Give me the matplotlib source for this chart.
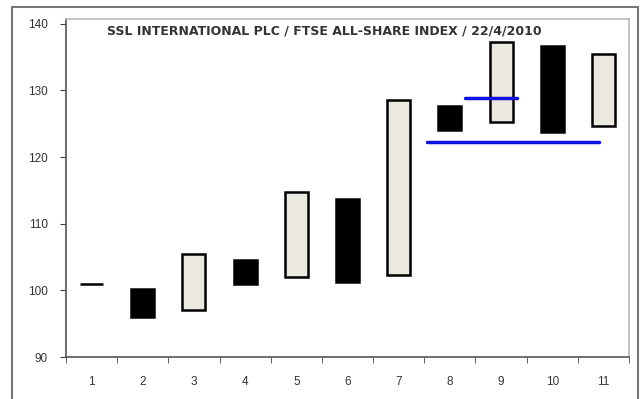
import numpy as np
import matplotlib.pyplot as plt
from matplotlib.patches import Rectangle

plt.rcParams['font.family'] = ['Liberation Sans', 'DejaVu Sans']

# candle bodies (open, close) per period
periods = list(range(1, 12))
opens = [101.0, 100.2, 97.0, 104.6, 102.0, 113.7, 102.3, 127.6, 125.2, 136.7, 124.7]
closes = [101.0, 96.0, 105.5, 101.0, 114.8, 101.2, 128.6, 124.1, 137.3, 123.7, 135.5]

# blue support / resistance lines: (x start, x end, level)
line_x0 = [7.29, 6.55]
line_x1 = [8.31, 9.91]
line_y = [128.8, 122.3]

title = 'SSL INTERNATIONAL PLC / FTSE ALL-SHARE INDEX / 22/4/2010'

fig = plt.figure(figsize=(6.44, 3.99), dpi=100)
# outer chart frame
fig.patches.append(Rectangle((12 / 644, -0.05), 626 / 644, 1 - 7 / 399 + 0.05,
                             transform=fig.transFigure, fill=False,
                             edgecolor='#777777', linewidth=1.5))

ax = fig.add_axes([66 / 644, 42 / 399, 563 / 644, 338 / 399])
x = np.arange(len(periods))
o = np.array(opens)
c = np.array(closes)
fills = ['black' if cc <= oo else '#ebe9df' for oo, cc in zip(o, c)]
ax.bar(x, c - o, bottom=o, width=0.45, color=fills, edgecolor='black', linewidth=1.8)

for x0, x1, yv in zip(line_x0, line_x1, line_y):
    ax.plot([x0, x1], [yv, yv], color='#1010e0', linewidth=2.5, solid_capstyle='round')

ax.set_xlim(-0.5, len(periods) - 0.5)
ax.set_ylim(90, 140.7)
ax.set_yticks(range(90, 141, 10))
ax.set_xticks(x)
ax.set_xticklabels([str(p) for p in periods])
ax.set_xticks(np.arange(-0.5, len(periods)), minor=True)
ax.tick_params(axis='x', which='major', length=0, pad=14, labelsize=8.5, labelcolor='#333333')
ax.tick_params(axis='x', which='minor', length=4, color='#444444', direction='out')
ax.tick_params(axis='y', length=4, color='#444444', labelsize=8.5, labelcolor='#333333', pad=9)

for side in ['left', 'bottom']:
    ax.spines[side].set_color('#555555')
    ax.spines[side].set_linewidth(1.2)
for side in ['top', 'right']:
    ax.spines[side].set_color('#bbbbbb')
    ax.spines[side].set_linewidth(1.2)

ax.text(0.458, 0.985, title, transform=ax.transAxes, ha='center', va='top',
        fontsize=9, fontweight='bold', color='#333333', family='DejaVu Sans')

fig.savefig('out.png', dpi=100)
